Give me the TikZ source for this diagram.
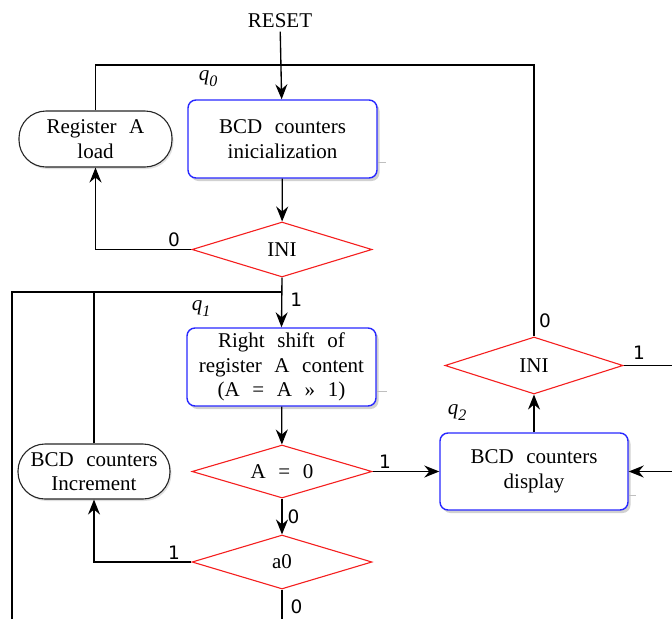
\documentclass[tikz,border=0pt]{standalone}
\usepackage{fontspec}
\setmainfont{Liberation Serif}[WordSpace=2.4]
\newfontfamily\labfont{DejaVu Sans}
\usetikzlibrary{arrows.meta,shapes.geometric,shadows}

\tikzset{
  flow/.style={line width=1.35pt, draw=black},
  arr/.style={flow, -{Stealth[length=15pt,width=12pt,inset=5pt]}},
  txt/.style={font=\fontsize{21}{24.5}\selectfont, align=center},
  statebox/.style={txt, draw={rgb,255:red,40;green,40;blue,255}, line width=1.4pt,
    rounded corners=8pt, fill=white, inner sep=0pt,
    drop shadow={shadow xshift=2.5pt, shadow yshift=-3pt, opacity=0.3, fill=black!60}},
  capsule/.style={txt, draw=black!85, line width=1.1pt, rounded corners=27pt, fill=white,
    inner sep=0pt,
    drop shadow={shadow xshift=1.5pt, shadow yshift=-2pt, opacity=0.2, fill=black!60}},
  test/.style={txt, diamond, draw={rgb,255:red,245;green,30;blue,30}, line width=1.1pt, fill=white,
    inner sep=0pt, aspect=3.3},
  lab/.style={font=\labfont\fontsize{18.5}{18.5}\selectfont, inner sep=2pt},
  stname/.style={font=\fontsize{21}{21}\selectfont\itshape, inner sep=0pt},
  tick/.style={draw=black!25, line width=0.8pt}
}
\newcommand{\stq}[1]{q\raisebox{-6pt}{\fontsize{16}{16}\selectfont #1}}

\begin{document}
\begin{tikzpicture}[x=1pt,y=-1pt]
\useasboundingbox (0,0) rectangle (672,619);

% states and decisions
\node[txt] (reset) at (280,21) {RESET};
\node[statebox, minimum width=189pt, minimum height=78pt] (init) at (282.5,139)
  {BCD counters\\inicialization};
\node[capsule, minimum width=153pt, minimum height=56pt] (load) at (95.5,139)
  {Register A\\load};
\node[test, minimum width=180pt, minimum height=55pt] (ini1) at (282,249.5) {INI};
\node[statebox, minimum width=189pt, minimum height=78pt] (shift) at (281.5,367)
  {Right shift of\\register A content\\(A = A » 1)};
\node[capsule, minimum width=152pt, minimum height=55pt] (inc) at (94,471.5)
  {BCD counters\\Increment};
\node[test, minimum width=180pt, minimum height=53pt] (az) at (282,471.5) {A = 0};
\node[test, minimum width=180pt, minimum height=54pt] (a0) at (282,562) {a0};
\node[statebox, minimum width=188pt, minimum height=77pt] (disp) at (534,471.5)
  {BCD counters\\display};
\node[test, minimum width=178pt, minimum height=57pt] (ini2) at (534,365.5) {INI};

% state names
\node[stname] (q0) at (208,79) {\stq{0}};
\node[stname] (q1) at (201,309) {\stq{1}};
\node[stname] (q2) at (457,413) {\stq{2}};

% small marks beside the boxes
\draw[tick] (init.east |- 0,162) -- ++(8,0);
\draw[tick] (shift.east |- 0,391) -- ++(10,0);
\draw[tick] (disp.east |- 0,495) -- ++(7,0);

% free ends of lines leaving the picture
\coordinate (topturn) at (534,65);
\coordinate (leftturn) at (12,292);
\coordinate (leftend) at (12,619);
\coordinate (rightout) at (672,365.5);
\coordinate (rightin) at (672,471.5);

% connectors
\draw[arr] (reset) -- (init);
\draw[arr] (init) -- (ini1);
\draw[arr] (ini1.west) -- node[lab, pos=0, anchor=south east, xshift=-9pt] (l0a) {0}
  (ini1.west -| load.south) -- (load.south);
\draw[flow] (load.north) |- (topturn) -- (ini2.north);
\node[lab, anchor=south west] (l0b) at ([xshift=3pt,yshift=6pt]ini2.north) {0};
\draw[arr] (ini1.south) -- node[lab, right, pos=0.45, xshift=6pt] (l1a) {1} (shift.north);
\draw[flow] (leftend) -- (leftturn) -- (ini1.south |- leftturn);
\draw[flow] (inc.north) -- (inc.north |- leftturn);
\draw[arr] (shift) -- (az);
\draw[arr] (az.east) -- node[lab, pos=0, anchor=south west, xshift=4pt] (l1b) {1} (disp.west);
\draw[arr] (az.south) -- node[lab, right, xshift=3pt] (l0c) {0} (a0.north);
\draw[arr] (a0.west) -- node[lab, pos=0, anchor=south east, xshift=-9pt] (l1c) {1}
  (a0.west -| inc.south) -- (inc.south);
\draw[flow] (a0.south) -- node[lab, right, pos=0.6, xshift=6pt] (l0d) {0} (a0.south |- leftend);
\draw[arr] (disp.north) -- (ini2.south);
\draw[flow] (ini2.east) -- node[lab, pos=0.32, anchor=south, yshift=3pt] (l1d) {1} (rightout);
\draw[arr] (rightin) -- (disp.east);
\end{tikzpicture}
\end{document}
